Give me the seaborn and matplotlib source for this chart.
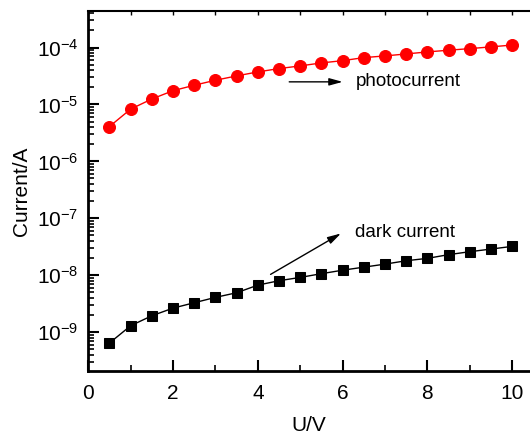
import numpy as np
import pandas as pd
import matplotlib
matplotlib.use("Agg")
import matplotlib.pyplot as plt
import matplotlib.ticker as mticker
import seaborn as sns

# bias voltage (V)
voltage = [0.5, 1.0, 1.5, 2.0, 2.5, 3.0, 3.5, 4.0, 4.5, 5.0,
           5.5, 6.0, 6.5, 7.0, 7.5, 8.0, 8.5, 9.0, 9.5, 10.0]

# photocurrent (A)
photo_current = [4.1e-6, 8.3e-6, 1.25e-5, 1.75e-5, 2.18e-5, 2.67e-5, 3.18e-5, 3.74e-5, 4.28e-5, 4.77e-5,
                 5.38e-5, 5.9e-5, 6.67e-5, 7.14e-5, 7.74e-5, 8.4e-5, 9.0e-5, 9.6e-5, 1.03e-4, 1.11e-4]

# dark current (A)
dark_current = [6.4e-10, 1.29e-9, 1.93e-9, 2.63e-9, 3.27e-9, 4.06e-9, 4.9e-9, 6.67e-9, 7.97e-9, 9.11e-9,
                1.06e-8, 1.22e-8, 1.38e-8, 1.56e-8, 1.79e-8, 1.97e-8, 2.29e-8, 2.58e-8, 2.87e-8, 3.2e-8]

df = pd.DataFrame({"U": voltage, "photo": photo_current, "dark": dark_current})

sns.set_style("ticks")
plt.rcParams["font.family"] = ["Liberation Sans", "DejaVu Sans"]
plt.rcParams["xtick.direction"] = "in"
plt.rcParams["ytick.direction"] = "in"
for key in ["text.color", "axes.labelcolor", "xtick.color", "ytick.color", "axes.edgecolor"]:
    plt.rcParams[key] = "black"

fig = plt.figure(figsize=(5.30, 4.37), dpi=100)
ax = fig.add_axes([0.1666, 0.151, 0.8334, 0.8238])

# curves
sns.lineplot(data=df, x="U", y="photo", ax=ax, color="red", marker="o",
             markersize=8.6, markeredgecolor="red", linewidth=1.0)
sns.lineplot(data=df, x="U", y="dark", ax=ax, color="black", marker="s",
             markersize=7.2, markeredgecolor="black", linewidth=1.0)

ax.set_yscale("log")
ax.set_xlim(0, 10.42)
ax.set_ylim(2.06e-10, 4.4e-4)

ax.xaxis.set_major_locator(mticker.MultipleLocator(2))
ax.xaxis.set_minor_locator(mticker.MultipleLocator(1))
ax.yaxis.set_major_locator(mticker.LogLocator(base=10, numticks=20))
ax.yaxis.set_minor_locator(mticker.LogLocator(base=10, subs=np.arange(2, 10), numticks=20))
ax.yaxis.set_minor_formatter(mticker.NullFormatter())

ax.tick_params(which="major", length=8, width=1.5, labelsize=15, pad=7)
ax.tick_params(which="minor", length=4, width=1.2)
ax.tick_params(axis="x", which="major", pad=9)

for side in ["left", "bottom"]:
    ax.spines[side].set_linewidth(2)
ax.spines["top"].set_linewidth(1.5)
ax.spines["right"].set_visible(False)

# small ticks along the top edge
top = ax.secondary_xaxis("top")
top.xaxis.set_major_locator(mticker.MultipleLocator(1))
top.tick_params(direction="in", length=3, width=1, labeltop=False)
top.spines["top"].set_visible(False)

ax.set_xlabel("U/V", fontsize=15, labelpad=10)
ax.set_ylabel("Current/A", fontsize=15, labelpad=4)

# annotations
arrow = dict(arrowstyle="-|>,head_length=0.8,head_width=0.22", color="black", lw=1.0,
             shrinkA=0, shrinkB=0)
ax.annotate("", xy=(6.0, 2.5e-5), xytext=(4.74, 2.5e-5), arrowprops=arrow)
ax.text(6.3, 2.5e-5, "photocurrent", fontsize=13.5, va="center")
ax.annotate("", xy=(5.96, 5.4e-8), xytext=(4.30, 1.03e-8), arrowprops=arrow)
ax.text(6.3, 5.6e-8, "dark current", fontsize=13.5, va="center")

fig.savefig("out.png", dpi=100)
